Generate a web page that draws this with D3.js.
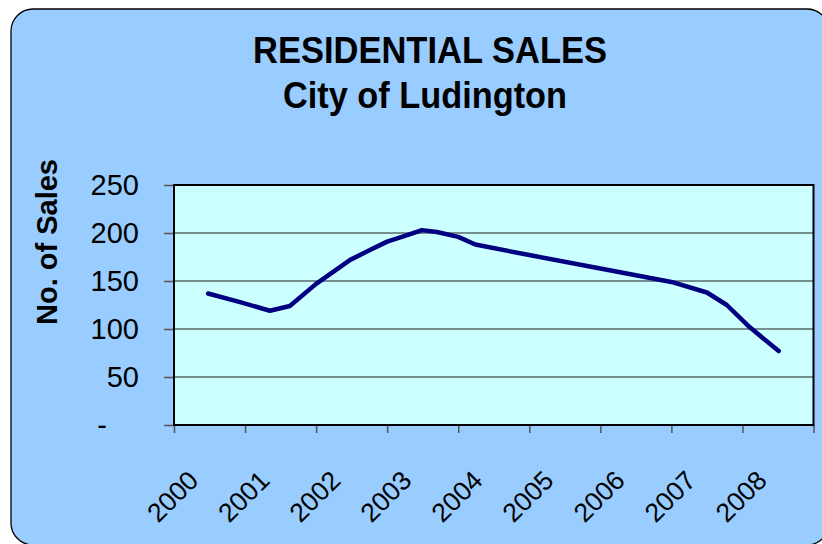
<!DOCTYPE html>
<html lang="en">
	<head>
		<meta charset="utf-8">
		<title>Residential Sales - City of Ludington</title>
		<script type="text/javascript" src="https://cdn.jsdelivr.net/npm/d3@7"></script>
		<style type="text/css">
			body { margin: 0; background: #ffffff; }
			text { font-family: "Liberation Sans", Arial, sans-serif; fill: #000; }
		</style>
	</head>
	<body>
		<script type="text/javascript">
			var w = 822;
			var h = 544;

			// data (year as decimal, number of sales)
			var saleYears = [2000.48, 2000.93, 2001.35, 2001.63, 2002.0, 2002.48, 2002.75, 2003.0,
							2003.25, 2003.49, 2003.7, 2004.0, 2004.24, 2005.0, 2006.0, 2007.0,
							2007.5, 2007.78, 2008.1, 2008.51];
			var sales = [137, 128, 119, 124, 147, 172, 182, 191,
						197, 203, 201, 196, 188, 177, 163, 149,
						138, 125, 102, 77];
			var yearTicks = [2000, 2001, 2002, 2003, 2004, 2005, 2006, 2007, 2008, 2009];
			var yearLabels = ["2000", "2001", "2002", "2003", "2004", "2005", "2006", "2007", "2008"];
			var salesTicks = [0, 50, 100, 150, 200, 250];

			var plot = { left: 174, right: 813.5, top: 185, bottom: 425 };

			var xScale = d3.scaleLinear()
							.domain([2000, 2009])
							.range([plot.left, plot.right]);
			var yScale = d3.scaleLinear()
							.domain([0, 250])
							.range([plot.bottom, plot.top]);

			var svg = d3.select("body")
							.append("svg")
							.attr("width", w)
							.attr("height", h);

			//chart background
			svg.append("rect")
				.attr("x", 11)
				.attr("y", 9)
				.attr("width", 818)
				.attr("height", 536)
				.attr("rx", 22)
				.attr("fill", "#99ccff")
				.attr("stroke", "#000")
				.attr("stroke-width", 1.3);

			//titles (Excel draws them a bit taller and narrower)
			svg.append("text")
				.attr("x", 430)
				.attr("y", 63)
				.attr("text-anchor", "middle")
				.attr("font-size", "36px")
				.attr("font-weight", "bold")
				.attr("textLength", 354)
				.attr("lengthAdjust", "spacingAndGlyphs")
				.text("RESIDENTIAL SALES");
			svg.append("text")
				.attr("x", 425)
				.attr("y", 108)
				.attr("text-anchor", "middle")
				.attr("font-size", "36px")
				.attr("font-weight", "bold")
				.attr("textLength", 284)
				.attr("lengthAdjust", "spacingAndGlyphs")
				.text("City of Ludington");

			//plot area
			svg.append("rect")
				.attr("x", plot.left)
				.attr("y", plot.top)
				.attr("width", plot.right - plot.left)
				.attr("height", plot.bottom - plot.top)
				.attr("fill", "#ccffff");

			//gridlines
			svg.selectAll("line.grid")
				.data(salesTicks.slice(1, -1))
				.enter()
				.append("line")
				.attr("class", "grid")
				.attr("x1", plot.left)
				.attr("x2", plot.right)
				.attr("y1", function(d) { return yScale(d); })
				.attr("y2", function(d) { return yScale(d); })
				.attr("stroke", "#5a6a6a")
				.attr("stroke-width", 1.7);

			//y axis
			var yAxis = d3.axisLeft(yScale)
							.tickValues(salesTicks)
							.tickSize(10)
							.tickPadding(25)
							.tickFormat(function(d) { return d === 0 ? "-" : d; });
			var gy = svg.append("g")
						.attr("transform", "translate(" + plot.left + ",0)")
						.call(yAxis);
			gy.select(".domain").remove();
			gy.selectAll(".tick line").attr("stroke", "#555").attr("stroke-width", 1.5);
			gy.selectAll(".tick text")
				.attr("font-size", "29px")
				.attr("font-family", "Liberation Sans, Arial, sans-serif")
				.attr("fill", "#000")
				.attr("dx", function(d) { return d === 0 ? -32 : 0; });

			//x axis
			var xAxis = d3.axisBottom(xScale)
							.tickValues(yearTicks)
							.tickSize(8)
							.tickFormat("");
			var gx = svg.append("g")
						.attr("transform", "translate(0," + plot.bottom + ")")
						.call(xAxis);
			gx.select(".domain").remove();
			gx.selectAll(".tick line").attr("stroke", "#555").attr("stroke-width", 1.5);

			svg.selectAll("text.year")
				.data(yearLabels)
				.enter()
				.append("text")
				.attr("class", "year")
				.attr("text-anchor", "end")
				.attr("font-size", "26.5px")
				.attr("transform", function(d) {
					return "translate(" + (xScale(+d) + 26) + ",482) rotate(-45)";
				})
				.text(function(d) { return d; });

			//plot border
			svg.append("rect")
				.attr("x", plot.left)
				.attr("y", plot.top)
				.attr("width", plot.right - plot.left)
				.attr("height", plot.bottom - plot.top)
				.attr("fill", "none")
				.attr("stroke", "#000")
				.attr("stroke-width", 2);

			//sales line
			var line = d3.line()
							.x(function(d, i) { return xScale(saleYears[i]); })
							.y(function(d) { return yScale(d); });
			svg.append("path")
				.datum(sales)
				.attr("d", line)
				.attr("fill", "none")
				.attr("stroke", "#000080")
				.attr("stroke-width", 4.5)
				.attr("stroke-linejoin", "round")
				.attr("stroke-linecap", "round");

			//axis title
			svg.append("text")
				.attr("transform", "translate(57,242) rotate(-90)")
				.attr("text-anchor", "middle")
				.attr("font-size", "29px")
				.attr("font-weight", "bold")
				.text("No. of Sales");
		</script>
	</body>
</html>
